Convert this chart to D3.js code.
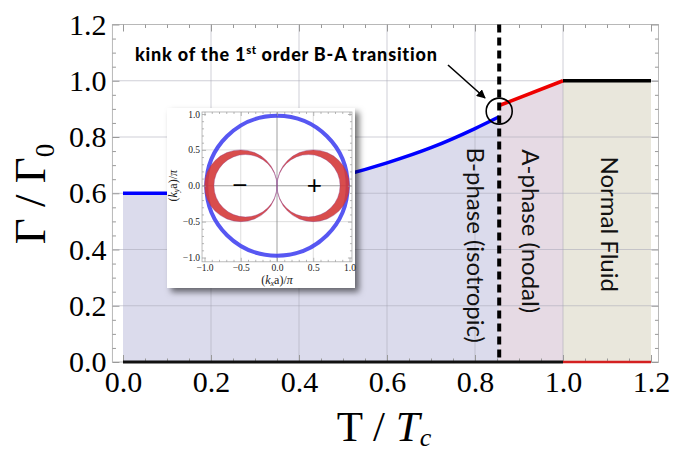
<!DOCTYPE html>
<html>
<head>
<meta charset="utf-8">
<script src="https://cdn.jsdelivr.net/npm/d3@7"></script>
<style>
  body { margin: 0; background: #fff; }
</style>
</head>
<body>
<div id="chart"></div>
<script>
// values
const xTicks = [0.0, 0.2, 0.4, 0.6, 0.8, 1.0, 1.2];
const yTicks = [0.0, 0.2, 0.4, 0.6, 0.8, 1.0, 1.2];
const minorTicks = [0.05, 0.1, 0.15, 0.25, 0.3, 0.35, 0.45, 0.5, 0.55, 0.65, 0.7, 0.75,
                    0.85, 0.9, 0.95, 1.05, 1.1, 1.15];

const bPhaseT     = [0.0, 0.2, 0.3, 0.4, 0.5, 0.6, 0.7, 0.8, 0.855];
const bPhaseGamma = [0.6, 0.6, 0.606, 0.628, 0.663, 0.708, 0.762, 0.83, 0.872];
const aPhaseT     = [0.855, 1.0];
const aPhaseGamma = [0.912, 1.0];
const normalT     = [1.0, 1.2];
const normalGamma = [1.0, 1.0];
const transitionT = 0.855;

const phaseLabels = ["B-phase (isotropic)", "A-phase (nodal)", "Normal Fluid"];
const phaseLabelT = [0.80, 0.925, 1.105];
const phaseLabelGamma = [0.415, 0.465, 0.49];

// inset: gap nodes on the Fermi surface
const insetTicks = [-1.0, -0.5, 0.0, 0.5, 1.0];
const insetMinor = [-0.9, -0.8, -0.7, -0.6, -0.4, -0.3, -0.2, -0.1, 0.1, 0.2, 0.3, 0.4, 0.6, 0.7, 0.8, 0.9];
const bRingRadius = 0.975;
const aLobeCenters = [-0.5, 0.5];
const aLobeOuter = 0.5;
const aLobeInner = 0.435;
const lobeSigns = ["\u2212", "+"];

const W = 681, H = 451;

const svg = d3.select("#chart").append("svg")
    .attr("width", W)
    .attr("height", H)
    .style("font-family", "'Liberation Serif', serif");

const x = d3.scaleLinear().domain([0, 1.2]).range([123, 651]);
const y = d3.scaleLinear().domain([0, 1.2]).range([362, 24.5]);

const frame = {left: x(-0.024), right: x(1.217), top: y(1.2), bottom: y(0)};

// phase fills
const area = d3.area().x(d => x(d[0])).y0(y(0)).y1(d => y(d[1]));
svg.append("path")
    .datum(d3.zip(bPhaseT, bPhaseGamma))
    .attr("d", area.curve(d3.curveMonotoneX))
    .attr("fill", "#dbdbec");
svg.append("path")
    .datum(d3.zip(aPhaseT, aPhaseGamma))
    .attr("d", area.curve(d3.curveLinear))
    .attr("fill", "#e6dae4");
svg.append("path")
    .datum(d3.zip(normalT, normalGamma))
    .attr("d", area)
    .attr("fill", "#e9e7dc");

// grid
const grid = svg.append("g").attr("stroke", "#a8a8b8").attr("stroke-opacity", 0.55);
grid.selectAll(".gx").data(xTicks.filter(d => d > 0 && d < 1.2)).enter().append("line")
    .attr("x1", d => x(d)).attr("x2", d => x(d))
    .attr("y1", frame.top).attr("y2", frame.bottom);
grid.selectAll(".gy").data(yTicks.filter(d => d > 0 && d < 1.2)).enter().append("line")
    .attr("x1", frame.left).attr("x2", frame.right)
    .attr("y1", d => y(d)).attr("y2", d => y(d));

// frame
svg.append("rect")
    .attr("x", frame.left).attr("y", frame.top)
    .attr("width", frame.right - frame.left)
    .attr("height", frame.bottom - frame.top)
    .attr("fill", "none")
    .attr("stroke", "#b8b8b8");

// ticks (all pointing inward) + labels
function styleAxis(g) {
    g.select(".domain").remove();
    g.selectAll(".tick line").attr("stroke", "#999");
}
svg.append("g")
    .attr("transform", `translate(${frame.left},0)`)
    .call(d3.axisLeft(y).tickValues(yTicks).tickFormat(d3.format(".1f"))
        .tickSizeInner(-7).tickSizeOuter(0).tickPadding(6))
    .call(styleAxis)
    .selectAll("text").attr("font-size", 30).attr("fill", "#000")
    .attr("font-family", "'Liberation Serif', serif");
svg.append("g")
    .attr("transform", `translate(0,${frame.bottom})`)
    .call(d3.axisBottom(x).tickValues(xTicks).tickFormat(d3.format(".1f"))
        .tickSizeInner(-7).tickSizeOuter(0).tickPadding(9))
    .call(styleAxis)
    .selectAll("text").attr("font-size", 30).attr("fill", "#000")
    .attr("font-family", "'Liberation Serif', serif");
svg.append("g")
    .attr("transform", `translate(${frame.right},0)`)
    .call(d3.axisRight(y).tickValues(yTicks).tickFormat("").tickSizeInner(-7).tickSizeOuter(0))
    .call(styleAxis);
svg.append("g")
    .attr("transform", `translate(0,${frame.top})`)
    .call(d3.axisTop(x).tickValues(xTicks).tickFormat("").tickSizeInner(-7).tickSizeOuter(0))
    .call(styleAxis);

[[d3.axisLeft(y), `translate(${frame.left},0)`],
 [d3.axisRight(y), `translate(${frame.right},0)`],
 [d3.axisBottom(x), `translate(0,${frame.bottom})`],
 [d3.axisTop(x), `translate(0,${frame.top})`]].forEach(([ax, tr]) => {
    svg.append("g")
        .attr("transform", tr)
        .call(ax.tickValues(minorTicks).tickFormat("").tickSizeInner(-3.5).tickSizeOuter(0))
        .call(styleAxis);
});

// curves
const line = d3.line().x(d => x(d[0])).y(d => y(d[1]));
svg.append("path")
    .datum(d3.zip(bPhaseT, bPhaseGamma))
    .attr("d", line.curve(d3.curveMonotoneX))
    .attr("fill", "none").attr("stroke", "#0000ff").attr("stroke-width", 3.5);
svg.append("path")
    .datum(d3.zip(aPhaseT, aPhaseGamma))
    .attr("d", line.curve(d3.curveLinear))
    .attr("fill", "none").attr("stroke", "#ee0000").attr("stroke-width", 3.5);
svg.append("path")
    .datum(d3.zip(normalT, normalGamma))
    .attr("d", line)
    .attr("fill", "none").attr("stroke", "#000").attr("stroke-width", 3.5);

// zero line
svg.append("line")
    .attr("x1", x(0)).attr("x2", x(1.0)).attr("y1", y(0)).attr("y2", y(0))
    .attr("stroke", "#111").attr("stroke-width", 3);
svg.append("line")
    .attr("x1", x(1.0)).attr("x2", x(1.2)).attr("y1", y(0)).attr("y2", y(0))
    .attr("stroke", "#d42020").attr("stroke-width", 2.5);

// first-order transition
svg.append("line")
    .attr("x1", x(transitionT)).attr("x2", x(transitionT))
    .attr("y1", frame.top).attr("y2", frame.bottom)
    .attr("stroke", "#000").attr("stroke-width", 4)
    .attr("stroke-dasharray", "8,5");

svg.append("circle")
    .attr("cx", x(transitionT))
    .attr("cy", y((bPhaseGamma[bPhaseGamma.length - 1] + aPhaseGamma[0]) / 2))
    .attr("r", 13)
    .attr("fill", "none").attr("stroke", "#000").attr("stroke-width", 1.6);

// annotation
const defs = svg.append("defs");
defs.append("marker")
    .attr("id", "arrow")
    .attr("viewBox", "0 0 10 10")
    .attr("refX", 9).attr("refY", 5)
    .attr("markerWidth", 9).attr("markerHeight", 9)
    .attr("markerUnits", "userSpaceOnUse")
    .attr("orient", "auto")
    .append("path").attr("d", "M0,0 L10,5 L0,10 z").attr("fill", "#000");

const note = svg.append("text")
    .attr("x", 135).attr("y", 61)
    .attr("font-family", "Lato, sans-serif")
    .attr("font-weight", 900)
    .attr("font-size", 18)
    .attr("letter-spacing", 0.8)
    .attr("fill", "#000");
note.append("tspan").text("kink of the 1");
note.append("tspan").attr("dy", -7).attr("font-size", 11.5).attr("letter-spacing", 0.4).text("st");
note.append("tspan").attr("dy", 7).text(" order B-A transition");

svg.append("line")
    .attr("x1", 448).attr("y1", 65)
    .attr("x2", 485).attr("y2", 98)
    .attr("stroke", "#000").attr("stroke-width", 1.6)
    .attr("marker-end", "url(#arrow)");

// phase labels
phaseLabels.forEach((lab, i) => {
    svg.append("text")
        .attr("transform", `translate(${x(phaseLabelT[i])},${y(phaseLabelGamma[i])}) rotate(90)`)
        .attr("text-anchor", "middle")
        .attr("dy", "0.35em")
        .attr("font-family", "Lato, sans-serif")
        .attr("font-size", 24)
        .attr("fill", "#111")
        .text(lab);
});

// axis titles
const yTitle = svg.append("text")
    .attr("transform", "translate(45,194) rotate(-90)")
    .attr("text-anchor", "middle")
    .attr("font-size", 45)
    .attr("fill", "#000");
yTitle.append("tspan").text("\u0393 / \u0393");
yTitle.append("tspan").attr("font-size", 27).attr("dy", 9).text("0");

const xTitle = svg.append("text")
    .attr("x", 384).attr("y", 441)
    .attr("text-anchor", "middle")
    .attr("font-size", 43)
    .attr("fill", "#000");
xTitle.append("tspan").text("T / ");
xTitle.append("tspan").attr("font-style", "italic").text("T");
xTitle.append("tspan").attr("font-style", "italic").attr("font-size", 26).attr("dy", 5).text("c");

// inset
const shadow = defs.append("filter")
    .attr("id", "shadow")
    .attr("x", "-10%").attr("y", "-10%").attr("width", "130%").attr("height", "130%");
shadow.append("feDropShadow")
    .attr("dx", 4).attr("dy", 4).attr("stdDeviation", 3)
    .attr("flood-color", "#000").attr("flood-opacity", 0.55);

const inset = svg.append("g");
inset.append("rect")
    .attr("x", 167).attr("y", 108).attr("width", 188).attr("height", 180)
    .attr("fill", "#fff")
    .attr("filter", "url(#shadow)");

const ix = d3.scaleLinear().domain([-1, 1]).range([204.5, 349.5]);
const iy = d3.scaleLinear().domain([-1, 1]).range([257.5, 114]);
const iframe = {left: ix(-1.034), right: ix(1.034), top: iy(1.028), bottom: iy(-1.06)};

defs.append("clipPath").attr("id", "insetClip")
    .append("rect")
    .attr("x", iframe.left).attr("y", iframe.top)
    .attr("width", iframe.right - iframe.left).attr("height", iframe.bottom - iframe.top);

const ip = inset.append("g").attr("clip-path", "url(#insetClip)");
insetTicks.filter(d => Math.abs(d) === 0.5).forEach(d => {
    ip.append("line").attr("x1", ix(d)).attr("x2", ix(d))
        .attr("y1", iframe.top).attr("y2", iframe.bottom)
        .attr("stroke", "#d6d6d6").attr("stroke-width", 0.8);
    ip.append("line").attr("y1", iy(d)).attr("y2", iy(d))
        .attr("x1", iframe.left).attr("x2", iframe.right)
        .attr("stroke", "#d6d6d6").attr("stroke-width", 0.8);
});
ip.append("line").attr("x1", ix(0)).attr("x2", ix(0))
    .attr("y1", iframe.top).attr("y2", iframe.bottom)
    .attr("stroke", "#888").attr("stroke-width", 0.8);
ip.append("line").attr("y1", iy(0)).attr("y2", iy(0))
    .attr("x1", iframe.left).attr("x2", iframe.right)
    .attr("stroke", "#888").attr("stroke-width", 0.8);

// B-phase: isotropic gap ring
ip.append("ellipse")
    .attr("cx", ix(0)).attr("cy", iy(0))
    .attr("rx", ix(bRingRadius) - ix(0)).attr("ry", iy(0) - iy(bRingRadius))
    .attr("fill", "none")
    .attr("stroke", "#3a3af0").attr("stroke-opacity", 0.85).attr("stroke-width", 4);

// A-phase: two lobes with node at the centre
aLobeCenters.forEach((c, i) => {
    const s = Math.sign(c);
    const rxO = ix(aLobeOuter) - ix(0), ryO = iy(0) - iy(aLobeOuter);
    const rxI = ix(aLobeInner) - ix(0), ryI = iy(0) - iy(aLobeInner);
    const cxO = ix(c), cxI = ix(s * aLobeInner), cy = iy(0);
    const d = `M${cxO - rxO},${cy} a${rxO},${ryO} 0 1,0 ${2 * rxO},0 a${rxO},${ryO} 0 1,0 ${-2 * rxO},0 Z ` +
              `M${cxI - rxI},${cy} a${rxI},${ryI} 0 1,0 ${2 * rxI},0 a${rxI},${ryI} 0 1,0 ${-2 * rxI},0 Z`;
    ip.append("path")
        .attr("d", d)
        .attr("fill-rule", "evenodd")
        .attr("fill", "#d43a3a").attr("fill-opacity", 0.9)
        .attr("stroke", "#8a3a8a").attr("stroke-opacity", 0.6).attr("stroke-width", 0.6);
    ip.append("text")
        .attr("x", ix(c) + (s > 0 ? 1 : -1)).attr("y", iy(0))
        .attr("dy", "0.33em")
        .attr("text-anchor", "middle")
        .attr("font-family", "'Liberation Sans', sans-serif")
        .attr("font-size", 26)
        .attr("fill", "#000")
        .text(lobeSigns[i]);
});

inset.append("rect")
    .attr("x", iframe.left).attr("y", iframe.top)
    .attr("width", iframe.right - iframe.left).attr("height", iframe.bottom - iframe.top)
    .attr("fill", "none").attr("stroke", "#aaa").attr("stroke-width", 0.8);

function insetAxis(g) {
    g.select(".domain").remove();
    g.selectAll(".tick line").attr("stroke", "#999").attr("stroke-width", 0.7);
    g.selectAll("text").attr("font-size", 9.5).attr("fill", "#222")
        .attr("font-family", "'Liberation Serif', serif");
}
const fmt = d => (d < 0 ? "\u2212" : "") + Math.abs(d).toFixed(1);
inset.append("g").attr("transform", `translate(${iframe.left},0)`)
    .call(d3.axisLeft(iy).tickValues(insetTicks).tickFormat(fmt).tickSizeInner(-4).tickSizeOuter(0).tickPadding(2))
    .call(insetAxis);
inset.append("g").attr("transform", `translate(0,${iframe.bottom})`)
    .call(d3.axisBottom(ix).tickValues(insetTicks).tickFormat(fmt).tickSizeInner(-4).tickSizeOuter(0).tickPadding(2))
    .call(insetAxis);
inset.append("g").attr("transform", `translate(${iframe.right},0)`)
    .call(d3.axisRight(iy).tickValues(insetTicks).tickFormat("").tickSizeInner(-4).tickSizeOuter(0))
    .call(insetAxis);
inset.append("g").attr("transform", `translate(0,${iframe.top})`)
    .call(d3.axisTop(ix).tickValues(insetTicks).tickFormat("").tickSizeInner(-4).tickSizeOuter(0))
    .call(insetAxis);
[[d3.axisLeft(iy), `translate(${iframe.left},0)`],
 [d3.axisRight(iy), `translate(${iframe.right},0)`],
 [d3.axisBottom(ix), `translate(0,${iframe.bottom})`],
 [d3.axisTop(ix), `translate(0,${iframe.top})`]].forEach(([ax, tr]) => {
    inset.append("g").attr("transform", tr)
        .call(ax.tickValues(insetMinor).tickFormat("").tickSizeInner(-2).tickSizeOuter(0))
        .call(insetAxis);
});

const ixTitle = inset.append("text")
    .attr("x", ix(0)).attr("y", 284)
    .attr("text-anchor", "middle")
    .attr("font-size", 12).attr("fill", "#222");
ixTitle.append("tspan").text("(");
ixTitle.append("tspan").attr("font-style", "italic").text("k");
ixTitle.append("tspan").attr("font-style", "italic").attr("font-size", 8).attr("dy", 2).text("x");
ixTitle.append("tspan").attr("dy", -2).text("a)/");
ixTitle.append("tspan").attr("font-style", "italic").text("\u03c0");

const iyTitle = inset.append("text")
    .attr("transform", `translate(177,${iy(0)}) rotate(-90)`)
    .attr("text-anchor", "middle")
    .attr("font-size", 12).attr("fill", "#222");
iyTitle.append("tspan").text("(");
iyTitle.append("tspan").attr("font-style", "italic").text("k");
iyTitle.append("tspan").attr("font-style", "italic").attr("font-size", 8).attr("dy", 2).text("y");
iyTitle.append("tspan").attr("dy", -2).text("a)/");
iyTitle.append("tspan").attr("font-style", "italic").text("\u03c0");
</script>
</body>
</html>
